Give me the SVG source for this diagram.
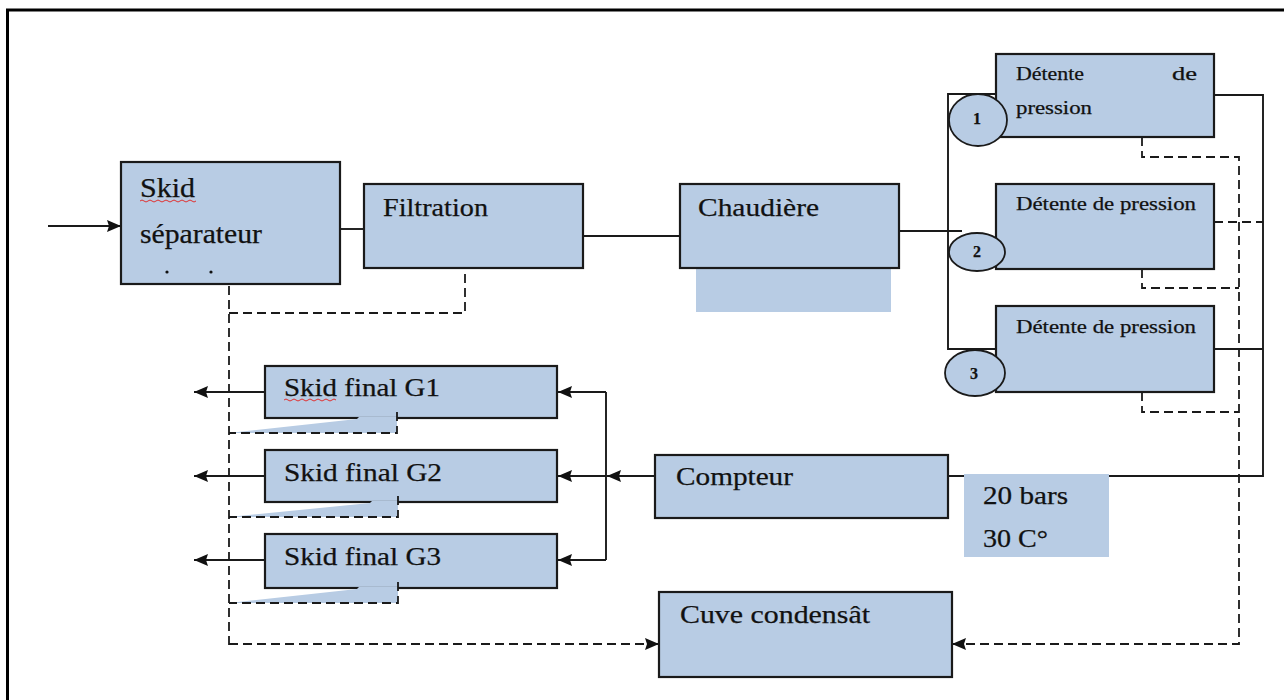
<svg xmlns="http://www.w3.org/2000/svg" width="1284" height="700" viewBox="0 0 1284 700">
<style>
.box{fill:#b8cce4;stroke:#1a1a1a;stroke-width:2.2}
.fill{fill:#b8cce4;stroke:none}
.t{font-family:"Liberation Serif","Times New Roman",serif;fill:#111;stroke:#111;stroke-width:0.25}
.ln{fill:none;stroke:#1a1a1a;stroke-width:1.9}
.dash{fill:none;stroke:#1a1a1a;stroke-width:1.8;stroke-dasharray:9,5}
.sq{fill:none;stroke:#e03030;stroke-width:1}
</style>
<defs>
<marker id="ah" viewBox="0 0 14 12" refX="14" refY="6" markerWidth="14" markerHeight="12" markerUnits="userSpaceOnUse" orient="auto">
<path d="M0,0 L14,6 L0,12 L2,6 z" fill="#111"/>
</marker>
</defs>
<rect width="1284" height="700" fill="#fff"/>
<rect x="7.5" y="10" width="1300" height="720" fill="none" stroke="#000" stroke-width="3"/>

<g id="connectors">
<path class="ln" d="M48,226 H121" marker-end="url(#ah)"/>
<path class="ln" d="M340,229 H364"/>
<path class="ln" d="M583,236 H680"/>
<path class="ln" d="M899,231 H962"/>
<path class="ln" d="M996,94 H948 V349 H996"/>
<path class="ln" d="M1214,95 H1263 V476 H947"/>
<path class="ln" d="M1214,349 H1263"/>
<path class="dash" d="M1214,222 H1263"/>
<path class="ln" d="M655,476 H607" marker-end="url(#ah)"/>
<path class="ln" d="M606,392 V560"/>
<path class="ln" d="M606,392 H558" marker-end="url(#ah)"/>
<path class="ln" d="M606,476 H558" marker-end="url(#ah)"/>
<path class="ln" d="M606,560 H558" marker-end="url(#ah)"/>
<path class="ln" d="M265,392 H194" marker-end="url(#ah)"/>
<path class="ln" d="M265,476 H194" marker-end="url(#ah)"/>
<path class="ln" d="M265,560 H194" marker-end="url(#ah)"/>
<path class="dash" d="M229,286 V650"/>
<path class="dash" d="M229,313 H465 V268"/>
<path class="dash" d="M229,644 H659" marker-end="url(#ah)"/>
<path class="dash" d="M1142,137 V157 H1239 V644 H952" marker-end="url(#ah)"/>
<path class="dash" d="M1142,269 V288 H1239"/>
<path class="dash" d="M1142,392 V412 H1239"/>
</g>

<g id="skid-separateur">
<rect class="box" x="121" y="162" width="219" height="122"/>
<text class="t" x="140" y="197" font-size="27" textLength="55" lengthAdjust="spacingAndGlyphs">Skid</text>
<path class="sq" d="M140,201 q2,-2 4,0 t4,0 t4,0 t4,0 t4,0 t4,0 t4,0 t4,0 t4,0 t4,0 t4,0 t4,0 t4,0 t4,0"/>
<text class="t" x="140" y="243" font-size="27" textLength="122" lengthAdjust="spacingAndGlyphs">séparateur</text>
<circle cx="167" cy="272" r="1.6" fill="#111"/>
<circle cx="211" cy="272" r="1.6" fill="#111"/>
</g>

<g id="filtration">
<rect class="box" x="364" y="184" width="219" height="84"/>
<text class="t" x="383" y="216" font-size="26" textLength="105" lengthAdjust="spacingAndGlyphs">Filtration</text>
</g>

<g id="chaudiere">
<rect class="fill" x="696" y="268" width="195" height="44"/>
<rect class="box" x="680" y="184" width="219" height="84"/>
<text class="t" x="698" y="216" font-size="26" textLength="121" lengthAdjust="spacingAndGlyphs">Chaudière</text>
</g>

<g id="detente-1">
<rect class="box" x="996" y="54" width="218" height="83"/>
<text class="t" x="1016" y="80" font-size="19" textLength="68" lengthAdjust="spacingAndGlyphs">Détente</text>
<text class="t" x="1172" y="80" font-size="19" textLength="25" lengthAdjust="spacingAndGlyphs">de</text>
<text class="t" x="1016" y="114" font-size="19" textLength="76" lengthAdjust="spacingAndGlyphs">pression</text>
<ellipse cx="978" cy="120" rx="29" ry="26" fill="#b8cce4" stroke="#1a1a1a" stroke-width="1.8"/>
<text class="t" x="977" y="124" font-size="16" font-weight="bold" text-anchor="middle">1</text>
</g>

<g id="detente-2">
<rect class="box" x="996" y="184" width="218" height="85"/>
<text class="t" x="1016" y="210" font-size="19" textLength="180" lengthAdjust="spacingAndGlyphs">Détente de pression</text>
<ellipse cx="977" cy="252" rx="28" ry="19" fill="#b8cce4" stroke="#1a1a1a" stroke-width="1.8"/>
<text class="t" x="977" y="257" font-size="16" font-weight="bold" text-anchor="middle">2</text>
</g>

<g id="detente-3">
<rect class="box" x="996" y="306" width="218" height="86"/>
<text class="t" x="1016" y="333" font-size="19" textLength="180" lengthAdjust="spacingAndGlyphs">Détente de pression</text>
<ellipse cx="975" cy="373" rx="30" ry="23" fill="#b8cce4" stroke="#1a1a1a" stroke-width="1.8"/>
<text class="t" x="974" y="379" font-size="16" font-weight="bold" text-anchor="middle">3</text>
</g>

<g id="skid-final-g1">
<rect class="box" x="265" y="366" width="292" height="52"/>
<polygon class="fill" points="229,433 357,419 359,417 397,417 397,433"/>
<text class="t" x="284" y="396" font-size="25" textLength="156" lengthAdjust="spacingAndGlyphs">Skid final G1</text>
<path class="sq" d="M284,400 q2,-2 4,0 t4,0 t4,0 t4,0 t4,0 t4,0 t4,0 t4,0 t4,0 t4,0 t4,0 t4,0 t4,0"/>
</g>

<g id="skid-final-g2">
<rect class="box" x="265" y="450" width="292" height="52"/>
<polygon class="fill" points="229,517 370,503 372,501 398,501 398,517"/>
<text class="t" x="284" y="481" font-size="25" textLength="158" lengthAdjust="spacingAndGlyphs">Skid final G2</text>
</g>

<g id="skid-final-g3">
<rect class="box" x="265" y="534" width="292" height="54"/>
<polygon class="fill" points="229,603 357,589 359,587 398,587 398,603"/>
<text class="t" x="284" y="565" font-size="25" textLength="157" lengthAdjust="spacingAndGlyphs">Skid final G3</text>
</g>

<g id="dash-loops">
<path class="dash" d="M397,412 V433 H229"/>
<path class="dash" d="M398,496 V517 H229"/>
<path class="dash" d="M398,582 V603 H229"/>
</g>

<g id="compteur">
<rect class="box" x="655" y="455" width="293" height="63"/>
<text class="t" x="676" y="485" font-size="26" textLength="117" lengthAdjust="spacingAndGlyphs">Compteur</text>
</g>

<g id="conditions">
<rect class="fill" x="964" y="474" width="145" height="83"/>
<text class="t" x="983" y="504" font-size="25" textLength="85" lengthAdjust="spacingAndGlyphs">20 bars</text>
<text class="t" x="983" y="547" font-size="25" textLength="65" lengthAdjust="spacingAndGlyphs">30 C°</text>
</g>

<g id="cuve-condensat">
<rect class="box" x="659" y="592" width="293" height="85"/>
<text class="t" x="680" y="623" font-size="26" textLength="190" lengthAdjust="spacingAndGlyphs">Cuve condensât</text>
</g>
</svg>
